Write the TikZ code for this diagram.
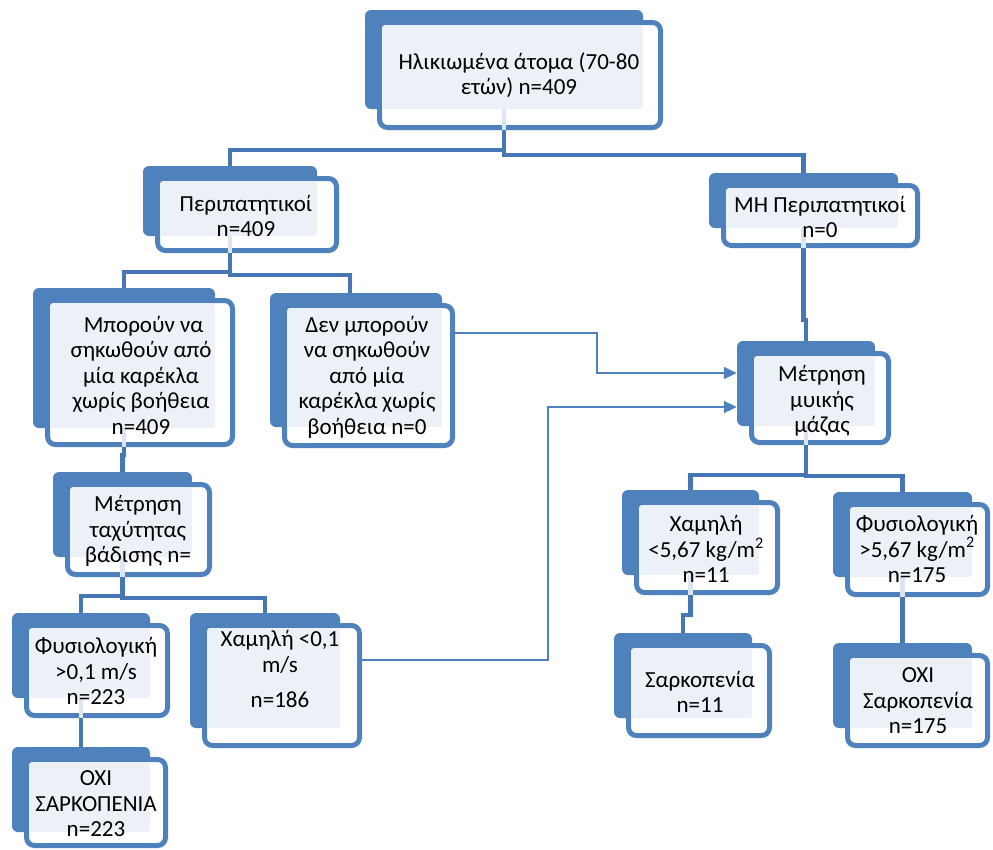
\documentclass[tikz,border=0pt]{standalone}
\usepackage{fontspec}
\setmainfont{Carlito}
\usetikzlibrary{fit,arrows.meta}
\definecolor{boxblue}{HTML}{4F81BD}
\definecolor{treeblue}{HTML}{4776B4}
\definecolor{lightfillc}{HTML}{ECF1F8}
\definecolor{ghostblue}{HTML}{DDE5F0}
\newcommand\mainfs{\fontsize{23}{25.5}\selectfont}
\tikzset{
  backbox/.style={fill=boxblue, rounded corners=6pt, inner sep=0pt, draw=none},
  frontbox/.style={draw=boxblue, line width=5pt, fill=white, rounded corners=8pt, inner sep=0pt},
  lightfill/.style={fill=lightfillc, rounded corners=3pt},
  txt/.style={align=center, font=\mainfs, inner sep=0pt, text=black},
  tree/.style={draw=treeblue, line width=4.5pt},
  ghost/.style={draw=ghostblue, line width=4.5pt},
  arr/.style={draw=boxblue, line width=2pt, -{Triangle[length=13pt,width=12pt]}},
}
% name, backL, backT, backR, backB, frontR, frontB
\newcommand\smartbox[7]{%
  \node[backbox, fit={(#2,#3)(#4,#5)}] (#1-b) {};
  \node[frontbox, fit={(#2+14.5,#3+12.5)(#6-2.5,#7-2.5)}] (#1) {};
  \fill[lightfill] (#2+17,#3+15) rectangle (#4,#5);
}
\newcommand\ghostline[1]{\draw[ghost] (#1-b.south) -- (#1-b.south |- #1.south);}
\begin{document}
\begin{tikzpicture}[x=1pt,y=-1pt]
\useasboundingbox (0,0) rectangle (993,849);

\smartbox{top}{365}{10}{643}{109}{663}{130}
\smartbox{peri}{143}{166}{317}{236}{339}{253}
\smartbox{mh}{709}{173}{898}{228}{920}{248}
\smartbox{mpo}{33}{288}{215}{428}{235}{447}
\smartbox{den}{270}{293}{442}{427}{455}{448}
\smartbox{myi}{737}{341}{875}{426}{891}{445}
\smartbox{tax}{53}{472}{192}{557}{212}{577}
\smartbox{fysa}{12}{613}{150}{698}{170}{718}
\smartbox{chama}{190}{613}{340}{728}{362}{748}
\smartbox{oxia}{12}{747}{150}{832}{168}{848}
\smartbox{chamb}{622}{490}{759}{575}{780}{595}
\smartbox{fysb}{833}{492}{972}{577}{990}{597}
\smartbox{sark}{614}{633}{752}{718}{772}{738}
\smartbox{oxib}{833}{643}{972}{728}{990}{748}

\ghostline{top}\ghostline{peri}\ghostline{mh}\ghostline{mpo}\ghostline{tax}
\ghostline{fysa}\ghostline{myi}\ghostline{chamb}\ghostline{fysb}

% texts
\node[txt] (top-t) at (519,75) {Ηλικιωμένα άτομα (70-80\\ετών) n=409};
\node[txt] (peri-t) at (246,216) {Περιπατητικοί\\n=409};
\node[txt] (mh-t) at (820,217) {ΜΗ Περιπατητικοί\\n=0};
\node[txt] (mpo-t) at (141,375) {\ Μπορούν να\\σηκωθούν από\\μία καρέκλα\\χωρίς βοήθεια\\n=409};
\node[txt] (den-t) at (367,377) {Δεν μπορούν\\να σηκωθούν\\από μία\\καρέκλα χωρίς\\βοήθεια n=0};
\node[txt] (myi-t) at (822,401) {Μέτρηση\\μυικής\\μάζας};
\node[txt] (tax-t) at (138,531) {Μέτρηση\\ταχύτητας\\βάδισης n=};
\node[txt] (fysa-t) at (96,671) {Φυσιολογική\\>0,1 m/s\\n=223};
\node[txt] (chama-t) at (280,669) {Χαμηλή <0,1\\m/s\\[10pt]n=186};
\node[txt] (oxia-t) at (96,804) {ΟΧΙ\\ΣΑΡΚΟΠΕΝΙΑ\\n=223};
\node[txt] (chamb-t) at (706,549) {Χαμηλή\\<5,67 kg/m\textsuperscript{2}\\n=11};
\node[txt] (fysb-t) at (917,549) {Φυσιολογική\\>5,67 kg/m\textsuperscript{2}\\n=175};
\node[txt] (sark-t) at (700,692) {Σαρκοπενία\\n=11};
\node[txt] (oxib-t) at (918,701) {ΟΧΙ\\Σαρκοπενία\\n=175};

% tree connectors
\draw[tree] (top-b.south |- top.south) -- ++(0,20) -| (peri-b.north);
\draw[tree] (top-b.south |- top.south) -- ++(0,25) -| (mh-b.north);
\draw[tree] (peri-b.south |- peri.south) -- ++(0,19) -| (mpo-b.north);
\draw[tree] (peri-b.south |- peri.south) -- ++(0,22) -| ([xshift=-6pt]den-b.north);
\draw[tree] (mh-b.south |- mh.south) -- ++(0,72) -| (myi-b.north);
\draw[tree] (mpo-b.south |- mpo.south) -- ++(0,8) -| (tax-b.north);
\draw[tree] (tax-b.south |- tax.south) -- ++(0,19) -| (fysa-b.north);
\draw[tree] (tax-b.south |- tax.south) -- ++(0,21) -| (chama-b.north);
\draw[tree] (fysa-b.south |- fysa.south) -- (oxia-b.north);
\draw[tree] (myi-b.south |- myi.south) -- ++(0,30) -| (chamb-b.north);
\draw[tree] (myi-b.south |- myi.south) -- ++(0,31) -| (fysb-b.north);
\draw[tree] (chamb-b.south |- chamb.south) -- ++(0,20) -| (sark-b.north);
\draw[tree] (fysb-b.south |- fysb.south) -- (oxib-b.north);

% arrows
\coordinate (a1) at (597,333);
\coordinate (a2) at (548,660);
\draw[arr] (den.east |- a1) -- (a1) |- ([yshift=10.5pt]myi-b.west);
\draw[arr] (chama.east |- a2) -- (a2) |- ([yshift=-23.5pt]myi-b.west);
\end{tikzpicture}
\end{document}
